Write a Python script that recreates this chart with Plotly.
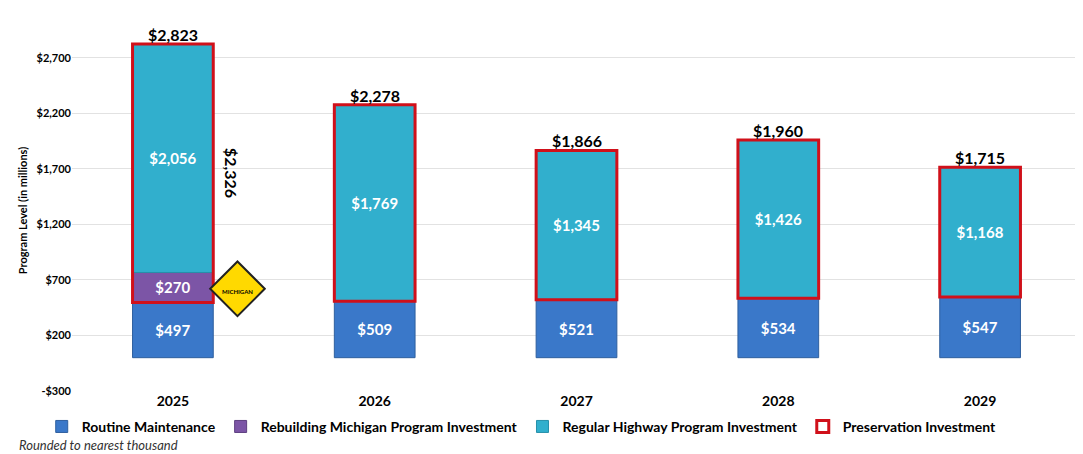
import plotly.graph_objects as go

years = ["2025", "2026", "2027", "2028", "2029"]
routine = [497, 509, 521, 534, 547]
rebuild = [270, 0, 0, 0, 0]
regular = [2056, 1769, 1345, 1426, 1168]
totals = [2823, 2278, 1866, 1960, 1715]
preservation_2025 = 2326
yticks = [-300, 200, 700, 1200, 1700, 2200, 2700]

F = "Lato"
xs = list(range(len(years)))
fig = go.Figure()
W = 0.4
fig.add_bar(x=xs, y=routine, base=[0]*5, width=W, name="Routine Maintenance",
            marker=dict(color="#3A78C9", line=dict(color="#2E5F9E", width=1)),
            text=[f"${v:,}" for v in routine], textposition="inside", insidetextanchor="middle",
            textfont=dict(color="white", size=15, family=F, weight="bold"))
fig.add_bar(x=xs[:1], y=rebuild[:1], base=routine[:1], width=W, name="Rebuilding Michigan Program Investment",
            marker=dict(color="#7C55A6", line=dict(color="#5E3F80", width=1)),
            text=[f"${v:,}" for v in rebuild[:1]], textposition="inside", insidetextanchor="middle",
            textfont=dict(color="white", size=15, family=F, weight="bold"))
fig.add_bar(x=xs, y=regular, base=[r + b for r, b in zip(routine, rebuild)], width=W,
            name="Regular Highway Program Investment",
            marker=dict(color="#31AFCD", line=dict(color="#2690AA", width=1)),
            text=[f"${v:,}" for v in regular], textposition="inside", insidetextanchor="middle",
            textfont=dict(color="white", size=15, family=F, weight="bold"))
fig.add_bar(x=xs, y=[t - r for t, r in zip(totals, routine)], base=routine, width=W,
            name="Preservation Investment",
            marker=dict(color="rgba(0,0,0,0)", line=dict(color="#D0101A", width=3)),
            hoverinfo="skip")

for x, t in zip(xs, totals):
    fig.add_annotation(x=x, y=t, text=f"<b>${t:,}</b>", showarrow=False, yanchor="bottom",
                       yshift=-2, font=dict(size=16, family=F, color="black"))
fig.add_annotation(x=0.29, y=(routine[0] + totals[0]) / 2, text=f"<b>${preservation_2025:,}</b>",
                   textangle=90, showarrow=False, font=dict(size=16, family=F, color="black"))
# Rebuilding Michigan badge
fig.add_trace(go.Scatter(x=[0.32], y=[620], mode="markers", showlegend=False, hoverinfo="skip",
                         marker=dict(symbol="diamond", size=42, color="#FFD900",
                                     line=dict(color="#222", width=2))))
fig.add_annotation(x=0.32, y=600, text="<b>MICHIGAN</b>", showarrow=False,
                   font=dict(size=6, family=F, color="black"))

fig.add_annotation(xref="paper", yref="paper", x=-0.055, y=-0.15, xanchor="left", yanchor="middle",
                   showarrow=False, text="<i>Rounded to nearest thousand</i>",
                   font=dict(size=13, family=F, color="#333"))

fig.update_layout(
    width=1083, height=454, barmode="overlay", plot_bgcolor="white", paper_bgcolor="white",
    margin=dict(l=64, r=10, t=22, b=71), font=dict(family=F, color="black"),
    legend=dict(orientation="h", x=-0.03, y=-0.055, xanchor="left", yanchor="top",
                font=dict(size=14, family=F, weight="bold"), traceorder="normal"),
    xaxis=dict(range=[-0.5, 4.5], tickvals=xs, ticktext=years, tickfont=dict(size=14, weight="bold"),
               showline=False, ticks="", showgrid=False, zeroline=False),
    yaxis=dict(range=[-300, 2950], tickvals=yticks, ticktext=[f"-${-v:,}" if v < 0 else f"${v:,}" for v in yticks],
               tickfont=dict(size=11, weight="bold"), showgrid=True, gridcolor="#E2E2E2", zeroline=False,
               title=dict(text="<b>Program Level (in millions)</b>", font=dict(size=11), standoff=6)),
)
fig.write_html("out.html")
